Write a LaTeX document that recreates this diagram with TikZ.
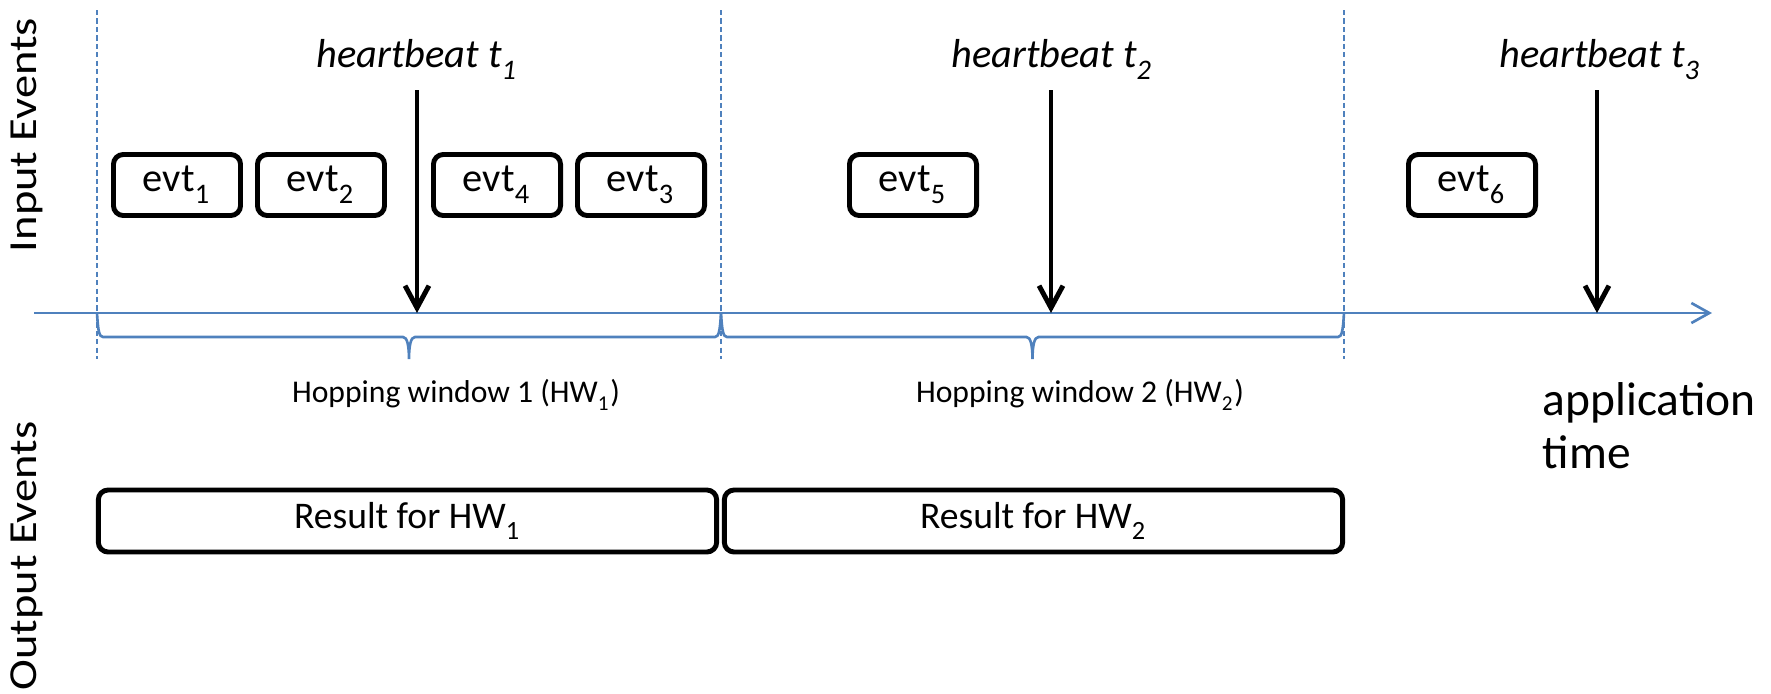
\documentclass[tikz,border=0pt]{standalone}
\usepackage{fontspec}
\setmainfont{Carlito}
\usetikzlibrary{arrows.meta}
\definecolor{winblue}{RGB}{79,129,189}
\def\hopbrace(#1:#2){%
	\pgfmathsetmacro{\bmid}{(#1+#2)/2}
	\draw[hopbr] (#1, 313) .. controls ({#1+1}, 330) and ({#1+2}, 337) .. ({#1+6}, 337) -- ({\bmid-6}, 337) .. controls ({\bmid-2}, 337) and ({\bmid}, 345) .. ({\bmid}, 359) .. controls ({\bmid}, 345) and ({\bmid+2}, 337) .. ({\bmid+6}, 337) -- ({#2-6}, 337) .. controls ({#2-2}, 337) and ({#2-1}, 330) .. (#2, 313);}
\def\lowsub#1{\raisebox{-0.3ex}{\textsubscript{#1}}}
\tikzset{
	evtbox/.style={draw, line width=1.4pt, rounded corners=2.8pt, minimum width=1.27cm, minimum height=0.61cm, inner sep=0pt, font=\fontsize{11.5}{13}\selectfont},
	resbox/.style={draw, line width=1.4pt, rounded corners=2.8pt, minimum width=6.18cm, minimum height=0.62cm, inner sep=0pt, font=\fontsize{10.7}{13}\selectfont},
	hblabel/.style={anchor=base, inner sep=0pt, font=\fontsize{11.5}{14}\selectfont\itshape},
	hoplabel/.style={anchor=base, inner sep=0pt, font=\fontsize{9}{11}\selectfont},
	sidelabel/.style={rotate=90, xscale=1.17, anchor=base, inner sep=0pt, font=\fontsize{11.3}{12}\selectfont},
	hbarrow/.style={line width=1.4pt, -{Straight Barb[length=6.3pt, width=6.8pt]}},
	axisline/.style={line width=0.75pt, color=winblue, -{Straight Barb[length=5.1pt, width=5.7pt]}},
	winline/.style={line width=0.6pt, color=winblue, dash pattern=on 1.5pt off 0.9pt},
	hopbr/.style={line width=0.75pt, color=winblue}
}

\begin{document}
\begin{tikzpicture}[x=0.01cm, y=-0.01cm]
		%%%%% START %%%%%
		\useasboundingbox (0, 0) rectangle (1771, 693);
		
		\node[sidelabel] (inlbl) at (37, 135) {Input Events};
		\node[sidelabel] (outlbl) at (37, 556) {Output Events};
		
		% window borders
		\draw[winline] (97, 10) -- (97, 359);
		\draw[winline] (721, 10) -- (721, 359);
		\draw[winline] (1344, 10) -- (1344, 359);
		
		% application time axis
		\coordinate (axs) at (34, 313);
		\coordinate (axe) at (1712, 313);
		\draw[axisline] (axs) -- (axe);
		\node[anchor=base west, align=left, inner sep=0pt, font=\fontsize{13.5}{15}\selectfont] (apptime) at (1542, 468) {application\\time};
		
		\hopbrace(97:721);
		\hopbrace(721:1344);
		\node[hoplabel] (hw1) at (456, 402) {Hopping window 1 (HW\lowsub{1})};
		\node[hoplabel] (hw2) at (1080, 402) {Hopping window 2 (HW\lowsub{2})};
		
		\node[evtbox] (evt1) at (177, 185) {evt\lowsub{1}};
		\node[evtbox] (evt2) at (321, 185) {evt\lowsub{2}};
		\node[evtbox] (evt4) at (497, 185) {evt\lowsub{4}};
		\node[evtbox] (evt3) at (641, 185) {evt\lowsub{3}};
		\node[evtbox] (evt5) at (913, 185) {evt\lowsub{5}};
		\node[evtbox] (evt6) at (1472, 185) {evt\lowsub{6}};
		
		% heartbeats
		\node[hblabel] (hb1) at (417, 67) {heartbeat t\lowsub{1}};
		\coordinate (hb1top) at (417, 90);
		\draw[hbarrow] (hb1top) -- (hb1top |- axs);
		\node[hblabel] (hb2) at (1052, 67) {heartbeat t\lowsub{2}};
		\coordinate (hb2top) at (1051, 90);
		\draw[hbarrow] (hb2top) -- (hb2top |- axs);
		\node[hblabel] (hb3) at (1600, 67) {heartbeat t\lowsub{3}};
		\coordinate (hb3top) at (1597, 90);
		\draw[hbarrow] (hb3top) -- (hb3top |- axs);
		
		% output events
		\node[resbox] (res1) at (407.5, 521) {Result for HW\lowsub{1}};
		\node[resbox] (res2) at (1033.5, 521) {Result for HW\lowsub{2}};
		
		%%%%% END %%%%%
\end{tikzpicture}
\end{document}
